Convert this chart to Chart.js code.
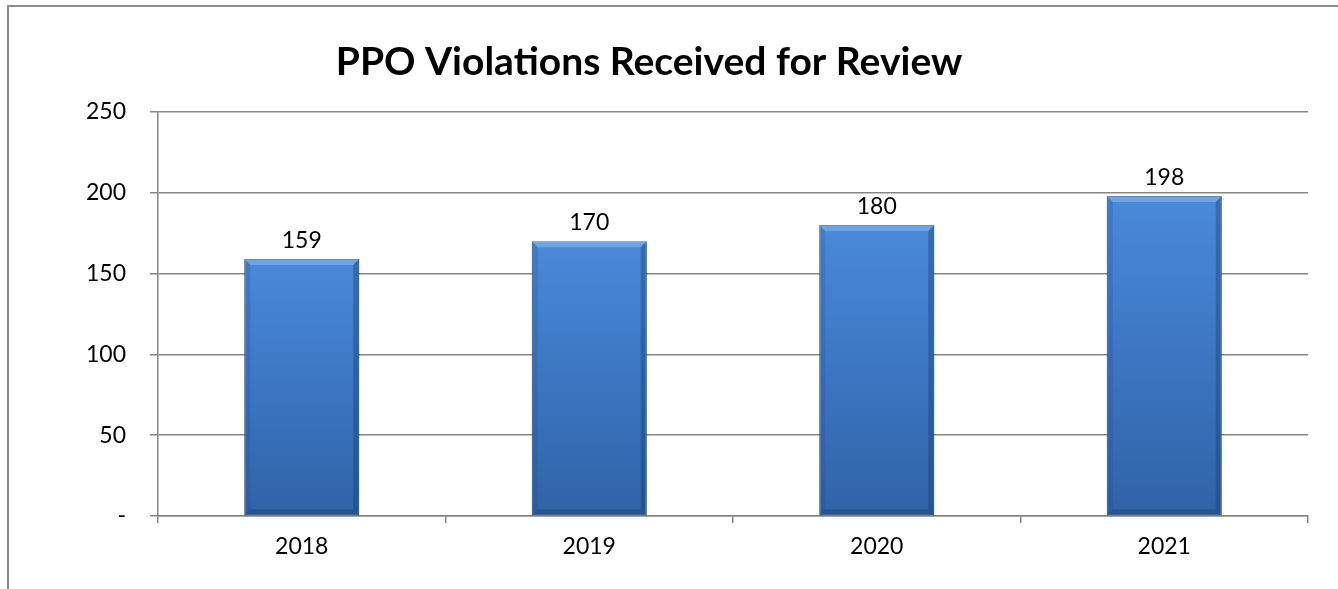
<!DOCTYPE html>
<html>
<head>
<meta charset="utf-8">
<script src="https://cdn.jsdelivr.net/npm/chart.js@4"></script>
<style>
    html, body { margin: 0; padding: 0; background: #fff; overflow: hidden; }
    #wrap { position: relative; width: 1338px; height: 589px; }
    #frame {
        position: absolute; left: 7px; top: 5px;
        width: 1400px; height: 700px;
        border: 2px solid #8a8a8a; box-sizing: border-box;
    }
    #chart { position: absolute; left: 0; top: 0; }
</style>
</head>
<body>
<div id="wrap">
    <div id="frame"></div>
    <canvas id="chart" width="1338" height="589"></canvas>
</div>
<script>
// data
const years = ['2018', '2019', '2020', '2021'];
const violations = [159, 170, 180, 198];
const yTicks = [0, 50, 100, 150, 200, 250];
const chartTitle = 'PPO Violations Received for Review';

const FONT = 'Lato, "Noto Sans", sans-serif';
const GRID = '#858585';

// bar fill: brighter blue on top, darker at the bottom
function barFill(ctx) {
    const chart = ctx.chart;
    const y = chart.scales.y;
    if (!y || !ctx.parsed) return '#3d78c6';
    const top = y.getPixelForValue(ctx.parsed.y);
    const bottom = y.getPixelForValue(0);
    if (!isFinite(top) || !isFinite(bottom) || top === bottom) return '#3d78c6';
    const g = chart.ctx.createLinearGradient(0, top, 0, bottom);
    g.addColorStop(0, '#4a8ad8');
    g.addColorStop(0.5, '#3c76c2');
    g.addColorStop(1, '#2f63a6');
    return g;
}

// bevel edges on each bar + value labels
const barExtras = {
    id: 'barExtras',
    afterDatasetsDraw(chart) {
        const ctx = chart.ctx;
        const meta = chart.getDatasetMeta(0);
        meta.data.forEach(function (bar, i) {
            const p = bar.getProps(['x', 'y', 'base', 'width'], true);
            const l = p.x - p.width / 2, r = p.x + p.width / 2;
            const t = p.y, b = p.base;
            const e = 6;
            ctx.save();
            // top bevel
            ctx.fillStyle = 'rgba(140,185,240,0.55)';
            ctx.beginPath();
            ctx.moveTo(l, t); ctx.lineTo(r, t); ctx.lineTo(r - e, t + e); ctx.lineTo(l + e, t + e);
            ctx.closePath(); ctx.fill();
            // left bevel
            ctx.fillStyle = 'rgba(30,70,130,0.22)';
            ctx.beginPath();
            ctx.moveTo(l, t); ctx.lineTo(l + e, t + e); ctx.lineTo(l + e, b - e); ctx.lineTo(l, b);
            ctx.closePath(); ctx.fill();
            // right bevel
            ctx.fillStyle = 'rgba(20,50,100,0.34)';
            ctx.beginPath();
            ctx.moveTo(r, t); ctx.lineTo(r - e, t + e); ctx.lineTo(r - e, b - e); ctx.lineTo(r, b);
            ctx.closePath(); ctx.fill();
            // bottom bevel
            ctx.fillStyle = 'rgba(20,50,100,0.3)';
            ctx.beginPath();
            ctx.moveTo(l, b); ctx.lineTo(l + e, b - e); ctx.lineTo(r - e, b - e); ctx.lineTo(r, b);
            ctx.closePath(); ctx.fill();

            // value label
            ctx.fillStyle = '#000';
            ctx.font = '23px ' + FONT;
            ctx.textAlign = 'center';
            ctx.textBaseline = 'alphabetic';
            ctx.fillText(String(violations[i]), p.x, t - 11);
            ctx.restore();
        });
    }
};

// title, centred a bit left of the plot
const titleText = {
    id: 'titleText',
    afterDraw(chart) {
        const ctx = chart.ctx;
        ctx.save();
        ctx.fillStyle = '#000';
        ctx.font = 'bold 39px ' + FONT;
        ctx.textAlign = 'center';
        ctx.textBaseline = 'alphabetic';
        ctx.fillText(chartTitle, 649, 75);
        ctx.restore();
    }
};

new Chart(document.getElementById('chart'), {
    type: 'bar',
    data: {
        labels: years,
        datasets: [{
            data: violations,
            backgroundColor: barFill,
            borderColor: '#2c5a98',
            borderWidth: 1,
            borderSkipped: false,
            barPercentage: 0.4,
            categoryPercentage: 1.0
        }]
    },
    options: {
        responsive: false,
        animation: false,
        layout: { padding: { top: 112, right: 30, left: 0, bottom: 0 } },
        plugins: {
            legend: { display: false },
            tooltip: { enabled: false },
            title: { display: false }
        },
        scales: {
            x: {
                offset: true,
                grid: {
                    offset: true,
                    drawOnChartArea: false,
                    drawTicks: true,
                    tickLength: 7,
                    color: GRID,
                    lineWidth: 1.5
                },
                border: { color: GRID, width: 1.5 },
                ticks: {
                    color: '#000',
                    font: { family: FONT, size: 23 },
                    padding: 10,
                    maxRotation: 0
                },
                afterFit: function (s) { s.height = 73; }
            },
            y: {
                min: 0,
                max: 250,
                afterBuildTicks: function (s) {
                    s.ticks = yTicks.map(function (v) { return { value: v }; });
                },
                grid: {
                    color: GRID,
                    lineWidth: 1.5,
                    drawTicks: true,
                    tickLength: 8
                },
                border: { color: GRID, width: 1.5 },
                ticks: {
                    color: '#000',
                    font: { family: FONT, size: 23 },
                    padding: 24,
                    callback: function (v) { return v === 0 ? '-' : v; }
                },
                afterFit: function (s) { s.width = 158; }
            }
        }
    },
    plugins: [barExtras, titleText]
});
</script>
</body>
</html>
